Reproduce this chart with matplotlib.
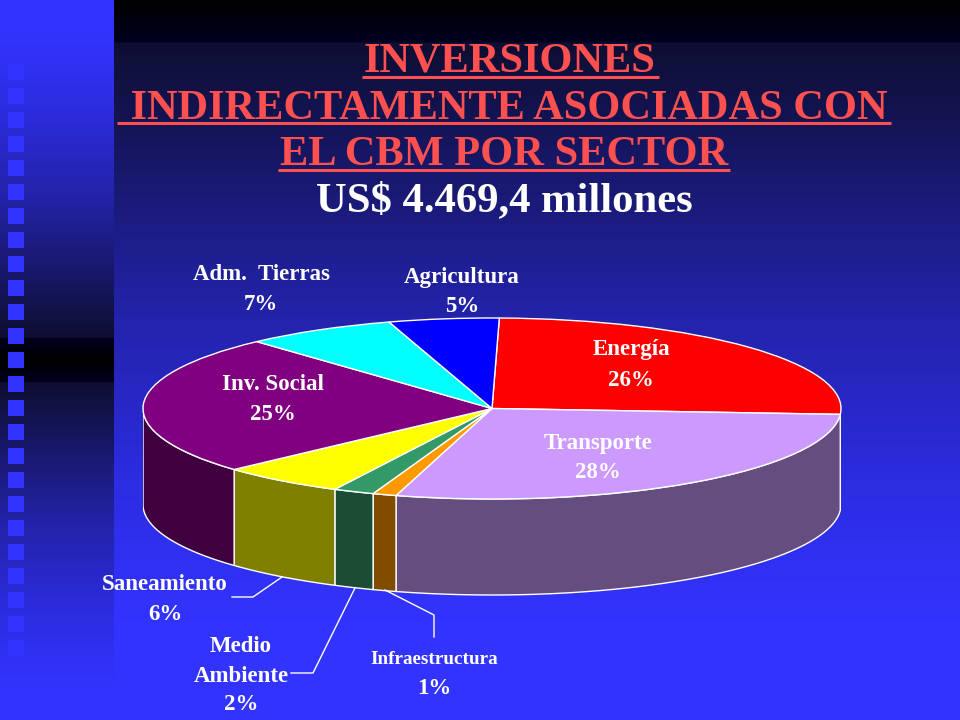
import numpy as np
import matplotlib
matplotlib.use("Agg")
import matplotlib.pyplot as plt

plt.rcParams['font.family'] = ['Liberation Serif', 'DejaVu Serif']

sectors = ['Energía', 'Transporte', 'Infraestructura', 'Medio\nAmbiente',
           'Saneamiento', 'Inv. Social', 'Adm.  Tierras', 'Agricultura']
shares = [25.7, 28.4, 1.1, 1.9, 5.8, 25.0, 7.0, 5.1]
top_colors = ['#ff0000', '#cc99ff', '#ff9900', '#339966',
              '#ffff00', '#800080', '#00ffff', '#0000ff']
title_lines = ['INVERSIONES', ' INDIRECTAMENTE ASOCIADAS CON', 'EL CBM POR SECTOR']
subtitle = 'US$ 4.469,4 millones'

W, H = 960, 720
fig = plt.figure(figsize=(W / 100, H / 100), dpi=100)

# Background in pixel coordinates
bg = fig.add_axes([0, 0, 1, 1])
bg.set_xlim(0, W)
bg.set_ylim(H, 0)
bg.axis('off')

stops_y = [0, 42, 43, 300, 480, 620, 720]
stops_r = [0, 0, 14, 34, 44, 51, 51]
stops_b = [0, 32, 50, 165, 225, 255, 255]


def ramp(d):
    r = np.interp(d, stops_y, stops_r) / 255
    b = np.interp(d, stops_y, stops_b) / 255
    return np.dstack([r, r, b]).reshape(len(d), 1, 3)


ys = np.arange(H) + 0.5
bg.imshow(ramp(ys), extent=[114, W, H, 0], aspect='auto', zorder=0)
bg.imshow(ramp(np.abs(ys - 360) * 1.9), extent=[0, 114, H, 0], aspect='auto', zorder=0)
bg.set_xlim(0, W)
bg.set_ylim(H, 0)

for top in range(64, 660, 24):
    bg.add_patch(plt.Rectangle((8, top), 16, 16, fc='#3333ff', ec='none', zorder=1))

# Title
title_x = [510, 504, 504]
title_y = [62, 109, 155]
for line, x, y in zip(title_lines, title_x, title_y):
    bg.text(x, y, line, color='#ff5050', fontsize=30.5, fontweight='bold',
            ha='center', va='center', zorder=5)
underlines = [(362, 659, 77), (117, 891, 123), (278, 730, 170)]
for x0, x1, y in underlines:
    bg.plot([x0, x1], [y, y], color='#ff5050', lw=2.2, solid_capstyle='butt', zorder=5)
bg.text(504, 201, subtitle, color='white', fontsize=30.7, fontweight='bold',
        ha='center', va='center', zorder=5)

# Pie: unit circle mapped onto the ellipse
cx0, cx1, cy0, cy1 = 143, 841, 318, 499
ry = (cy1 - cy0) / 2
depth = 96 / ry
ylow = -1 - depth - 0.1
yhigh = 1 + 0.1
pos_bottom = (H - (cy1 + (depth + 0.1) * ry)) / H
pos_height = ((1 + depth + 0.1) * ry + 1.1 * ry) / H
ax = fig.add_axes([cx0 / W, pos_bottom, (cx1 - cx0) / W, pos_height])
ax.patch.set_alpha(0)
wedges, _ = ax.pie(shares, colors=top_colors, startangle=88.8, counterclock=False,
                   radius=1, wedgeprops=dict(edgecolor='white', linewidth=1.0, zorder=3))
ax.set_aspect('auto')
ax.set_xlim(-1, 1)
ax.set_ylim(ylow, yhigh)
ax.axis('off')

# Extruded side walls for the front half of the ellipse
for w, col in zip(wedges, top_colors):
    a0, a1 = w.theta1 % 360, w.theta2 % 360
    if a1 <= a0:
        a1 += 360
    for lo, hi in [(180, 360), (540, 720)]:
        s, e = max(a0, lo), min(a1, hi)
        if e <= s:
            continue
        t = np.radians(np.linspace(s, e, 60))
        x = np.cos(t)
        y = np.sin(t)
        rgb = np.array(matplotlib.colors.to_rgb(col)) * 0.5
        ax.fill(np.r_[x, x[::-1]], np.r_[y, (y - depth)[::-1]], fc=rgb, ec='white',
                lw=1.0, zorder=2)

# Labels (pixel coordinates)
label_pos = {
    'Energía': (631, 350, 380),
    'Transporte': (598, 443, 473),
    'Inv. Social': (273, 384, 414),
    'Adm.  Tierras': (261, 274, 304),
    'Agricultura': (462, 277, 307),
    'Saneamiento': (165, 585, 614),
    'Medio\nAmbiente': (241, 646, 705),
    'Infraestructura': (434, 660, 688),
}
top = fig.add_axes([0, 0, 1, 1])
top.set_xlim(0, W)
top.set_ylim(H, 0)
top.axis('off')
top.patch.set_alpha(0)
txt = dict(color='white', fontweight='bold', ha='center', va='center')
for name, share in zip(sectors, shares):
    x, y0, y1 = label_pos[name]
    if name == 'Medio\nAmbiente':
        first, second = name.split('\n')
        top.text(x, y0, first, fontsize=16.5, **txt)
        top.text(x, 676, second, fontsize=16.5, **txt)
    else:
        top.text(x, y0, name, fontsize=13.8 if name == 'Infraestructura' else 16.5, **txt)
    top.text(x, y1, f'{round(share)}%', fontsize=16.5, **txt)

for xs, ys_ in [([232, 253, 282], [597, 597, 577]),
                ([291, 313, 355], [673, 673, 588]),
                ([434, 434, 385], [637, 615, 590])]:
    top.plot(xs, ys_, color='white', lw=1.0)

fig.savefig('out.png', dpi=100)
